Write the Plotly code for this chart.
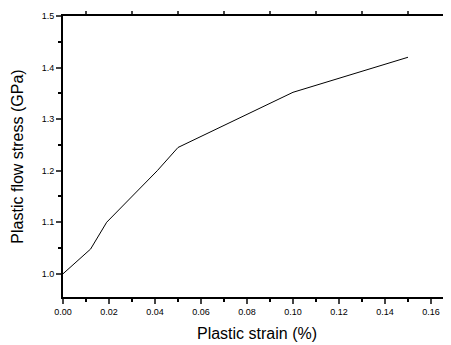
import plotly.graph_objects as go

strain = [0.0, 0.012, 0.019, 0.030, 0.041, 0.050, 0.100, 0.150]
stress = [1.0, 1.048, 1.100, 1.150, 1.200, 1.245, 1.352, 1.420]

x_tick_vals = [0.00, 0.02, 0.04, 0.06, 0.08, 0.10, 0.12, 0.14, 0.16]
y_tick_vals = [1.0, 1.1, 1.2, 1.3, 1.4, 1.5]
top_tick_vals = [0.01, 0.03, 0.05, 0.07, 0.09, 0.11, 0.13, 0.15]

fig = go.Figure()
fig.add_trace(go.Scatter(x=strain, y=stress, mode="lines",
                         line=dict(color="black", width=1), showlegend=False))
fig.add_trace(go.Scatter(x=[0], y=[1.0], xaxis="x2", mode="markers",
                         marker=dict(opacity=0), showlegend=False, hoverinfo="skip"))

font_family = "Liberation Sans, Arial, sans-serif"
fig.update_layout(
    width=443, height=337,
    margin=dict(l=55, r=0, t=8, b=48),
    paper_bgcolor="white", plot_bgcolor="white",
    font=dict(family=font_family, color="black"),
    xaxis=dict(range=[0, 0.1687], tickvals=x_tick_vals, tickformat=".2f",
               automargin=False,
               ticks="outside", ticklen=5, tickwidth=1.5, showline=True,
               linecolor="black", linewidth=2, showgrid=False, zeroline=False,
               tickfont=dict(size=9),
               minor=dict(ticks="outside", ticklen=3, dtick=0.01, tick0=0,
                          tickcolor="black", showgrid=False),
               title=dict(text="Plastic strain (%)", font=dict(size=16), standoff=12)),
    xaxis2=dict(range=[0, 0.1687], overlaying="x", side="top", tickvals=top_tick_vals,
                automargin=False,
                showticklabels=False, ticks="outside", ticklen=3, tickwidth=1.5,
                showline=True, linecolor="black", linewidth=2, showgrid=False,
                zeroline=False),
    yaxis=dict(range=[0.955, 1.5], tickvals=y_tick_vals, tickformat=".1f",
               automargin=False,
               ticks="outside", ticklen=5, tickwidth=1.5, showline=True,
               linecolor="black", linewidth=2, showgrid=False, zeroline=False,
               tickfont=dict(size=9),
               minor=dict(ticks="outside", ticklen=3, dtick=0.05, tick0=1.0,
                          tickcolor="black", showgrid=False),
               title=dict(text="Plastic flow stress (GPa)", font=dict(size=16), standoff=14)),
)

fig.write_html("out.html")
